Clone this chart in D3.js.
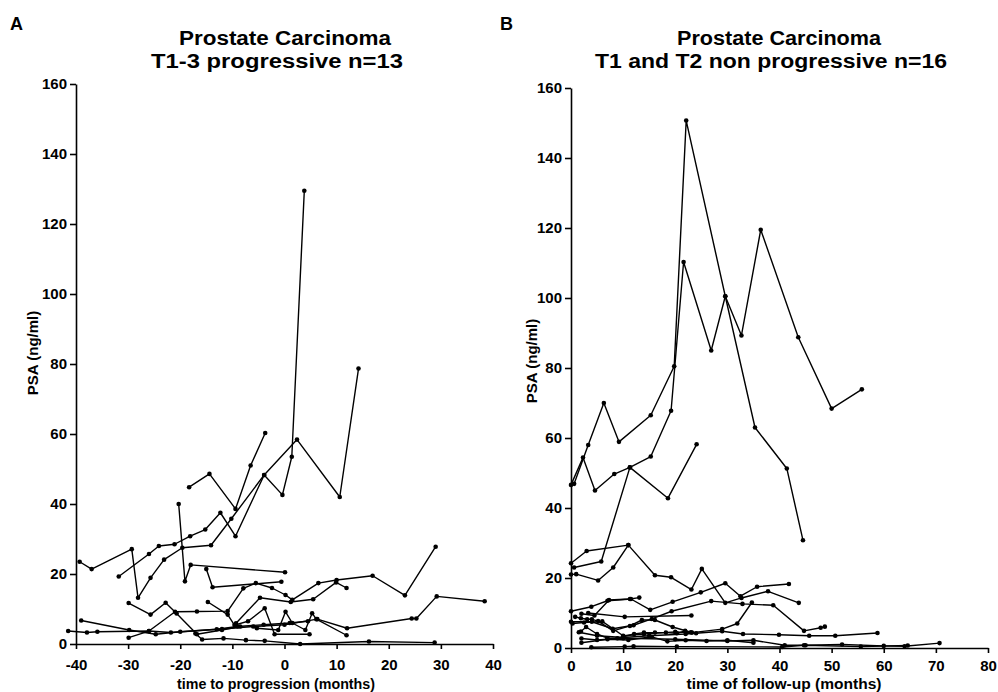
<!DOCTYPE html>
<html>
<head>
<meta charset="utf-8">
<script src="https://cdn.jsdelivr.net/npm/d3@7"></script>
<style>
  body { margin: 0; background: #fff; }
  svg { display: block; font-family: "Liberation Sans", Arial, Helvetica, sans-serif; }
  .axis path, .axis line { stroke: #000; stroke-width: 1.6; }
  .axis text { font-size: 15px; font-weight: bold; fill: #000; }
  .patient { fill: none; stroke: #000; stroke-width: 1.4; stroke-linejoin: round; }
  .dot { fill: #000; }
</style>
</head>
<body>
<svg id="chart" width="998" height="692"></svg>
<script>
// tick values
const psaTicks = [0, 20, 40, 60, 80, 100, 120, 140, 160];
const progressionTicks = [-40, -30, -20, -10, 0, 10, 20, 30, 40];
const followUpTicks = [0, 10, 20, 30, 40, 50, 60, 70, 80];

// panel A: T1-3 progressive, [months to progression, PSA ng/ml]
const progressive = [
  [[-18.3, 44.8], [-14.4, 48.6], [-9.4, 38.6], [-6.5, 51], [-3.7, 60.3]],
  [[-31.8, 19.3], [-26, 25.7], [-24.1, 28], [-21.1, 28.5], [-18.1, 30.8], [-15.2, 32.7], [-12.3, 37.5], [-9.4, 30.8], [-3.9, 48.3], [-0.4, 42.6], [1.4, 53.5], [3.8, 129.5]],
  [[-39.3, 23.5], [-37, 21.4], [-29.3, 27.1], [-28.1, 13.2], [-25.7, 18.9], [-23.1, 24.1], [-19.6, 27.5], [-14.1, 28.2], [-10.2, 35.8], [-3.9, 48.3], [2.4, 58.4], [10.6, 42], [14.2, 78.7]],
  [[-20.3, 40], [-19.1, 17.9], [-18, 22.6], [0.1, 20.5]],
  [[-15, 21.4], [-13.8, 16.2], [-0.6, 17.8]],
  [[-41.5, 3.7], [-37.9, 3.3], [-35.9, 3.5], [-26, 3.7], [-21.8, 3.3], [-12, 4.3], [-6, 5], [0, 5.5], [6.3, 7.1], [12, 4.5], [24.4, 7.3], [25.3, 7.3], [29.2, 13.6], [38.4, 12.2]],
  [[-39, 6.7], [-29.8, 4], [-24.7, 2.8], [-20, 3.5], [-13, 4.2], [-9, 5], [-4, 5.5], [1, 6], [4.5, 6.5]],
  [[-29.9, 1.8], [-26, 3.7], [-21, 9.2], [-16.8, 9.3], [-10.9, 9.4], [-7.9, 15.9], [-5.5, 17.4], [-2.4, 16], [0.2, 14], [1.5, 12.6], [6.5, 17.4], [10, 18.3], [16.9, 19.5], [23.1, 13.9], [29, 27.8]],
  [[-9.3, 5.9], [-4.7, 13.2], [1.2, 12], [5.5, 12.8], [9.9, 17.6], [11.9, 16]],
  [[-29.9, 11.7], [-25.7, 8.4], [-22.8, 11.8], [-20.7, 8.7], [-16.8, 2.8], [-12, 4], [-8.5, 5]],
  [[-14.7, 12], [-10.9, 8.4], [-9.6, 5.4], [-7, 6.5], [-3.8, 10.2], [-1.9, 2.8], [4.8, 2.8]],
  [[-5.3, 4.5], [-1.2, 4], [0.2, 9.2], [1.5, 6], [4, 4], [5.3, 8.8], [6.1, 7.1], [11.9, 2.5]],
  [[-17.1, 3], [-15.8, 1.3], [-11.7, 1.6], [-7.4, 1.1], [-3.8, 0.9], [3, 0], [16.2, 0.7], [28.8, 0.4]]
];

// panel B: T1 and T2 non progressive, [months of follow-up, PSA ng/ml]
const nonProgressive = [
  [[0.6, 46.9], [3.3, 58], [6.3, 70], [9.2, 58.9], [15.3, 66.5], [19.8, 80.5], [22.1, 150.7], [29.6, 100.5], [35.3, 63], [41.4, 51.3], [44.5, 30.8]],
  [[0, 46.6], [2.3, 54.4], [4.6, 45], [8.3, 49.7], [11.3, 51.6], [15.3, 54.7], [19.2, 67.8], [21.6, 110.3], [26.9, 85], [29.6, 100.5], [32.7, 89.3], [36.4, 119.5], [43.6, 88.8], [50, 68.4], [55.8, 73.9]],
  [[0.6, 23], [5.8, 24.7], [11.3, 51.6], [18.6, 42.8], [24.1, 58.2]],
  [[0, 24.2], [3, 27.7], [11, 29.4]],
  [[0, 21], [1, 21.1], [5.2, 19.3], [8.1, 23], [11, 29.4], [16.1, 20.8], [19.2, 20.2], [23.1, 16.7], [25.1, 22.6], [29.6, 12.9], [32.7, 14.3], [37.8, 16.2], [43.7, 12.9]],
  [[0, 10.5], [3.9, 11.8], [7, 13.5], [11.5, 14], [15.2, 10.9], [19.5, 13.2], [24.9, 15.9], [29.6, 18.5], [32.5, 14.8], [35.7, 17.5], [41.8, 18.3]],
  [[0, 7.5], [4, 7.5], [8, 5.5], [12, 6.5], [15.5, 8.3], [19.3, 10.5], [26.9, 13.4], [32.9, 12.6], [38.8, 12.2], [44.7, 4.9], [47.9, 5.8], [48.7, 6.1]],
  [[3.3, 10], [10.3, 8.9], [23.1, 9.3]],
  [[2, 9.8], [4.5, 9.3], [7.3, 13.7], [11.3, 14], [13.1, 14.4]],
  [[2, 2.7], [5, 2.3], [10, 2.8], [20, 2.5], [30, 2], [35, 2.2], [41, 0.8], [45, 0.8], [52, 1], [60, 0.6], [64, 0.5], [70.7, 1.4]],
  [[1.5, 4.5], [5, 3.5], [10, 3], [15, 3.5], [22, 4], [29, 4.8], [33, 4], [39.9, 3.8], [45.7, 3.5], [50.7, 3.5], [58.8, 4.3]],
  [[3.9, 0.2], [10.3, 0.4], [12, 0.5], [20.3, 0.4], [40.5, 0.3], [44.7, 0.8], [55.6, 0.4], [64.6, 0.7]],
  [[0.8, 8.9], [1.9, 8.5], [3.1, 8.2], [4, 8.2], [5.2, 7.7], [8.1, 4.9], [11.3, 6.3], [13.6, 8], [16.1, 8], [19.5, 6], [23, 4.5]],
  [[1.9, 4.7], [2.9, 6], [5, 4], [7, 2.8], [8.9, 2.8], [12.1, 4], [14, 4.4], [16.1, 4.4], [18.2, 4.4], [20.3, 4.2], [21.9, 4.9], [23.2, 4.4], [29, 5.4], [31.9, 7], [34.7, 13]],
  [[2, 1.5], [7, 2.5], [11, 2.3], [15.5, 3.2], [18.5, 1.9], [22, 2.2], [26, 2], [30, 2.2], [35, 1.5]],
  [[0.3, 7], [2.5, 7.3], [6, 7.6], [10, 3.5], [14, 4], [20, 4.6], [24, 4.2]]
];

const svg = d3.select('#chart');

function drawPanel(p) {
  const x = d3.scaleLinear().domain(p.xDomain).range(p.xRange);
  const y = d3.scaleLinear().domain([0, 160]).range(p.yRange);
  const g = svg.append('g');

  g.append('g')
    .attr('class', 'axis')
    .attr('transform', `translate(0,${p.yRange[0]})`)
    .call(d3.axisBottom(x).tickValues(p.xTicks).tickSize(5).tickSizeOuter(0).tickPadding(p.xPad).tickFormat(d => String(d)));

  g.append('g')
    .attr('class', 'axis')
    .attr('transform', `translate(${p.xRange[0]},0)`)
    .call(d3.axisLeft(y).tickValues(psaTicks).tickSize(6).tickSizeOuter(0).tickPadding(3).tickFormat(d => String(d)));

  const line = d3.line().x(d => x(d[0])).y(d => y(d[1]));

  g.selectAll('.patient')
    .data(p.series)
    .enter()
    .append('path')
    .attr('class', 'patient')
    .attr('d', line);

  g.selectAll('.dot')
    .data(p.series.flat())
    .enter()
    .append('circle')
    .attr('class', 'dot')
    .attr('cx', d => x(d[0]))
    .attr('cy', d => y(d[1]))
    .attr('r', 2.3);

  // panel letter
  g.append('text')
    .attr('x', p.letterX).attr('y', 30)
    .style('font-size', '18px').style('font-weight', 'bold')
    .text(p.letter);

  // two-line title
  p.title.forEach((t, i) => {
    g.append('text')
      .attr('x', p.titleX[i]).attr('y', 45 + i * 23)
      .attr('text-anchor', 'middle')
      .attr('textLength', p.titleW[i])
      .attr('lengthAdjust', 'spacingAndGlyphs')
      .style('font-size', '20px').style('font-weight', 'bold')
      .text(t);
  });

  g.append('text')
    .attr('x', p.xLabelX).attr('y', 689)
    .attr('text-anchor', 'middle')
    .attr('textLength', p.xLabelW)
    .attr('lengthAdjust', 'spacingAndGlyphs')
    .style('font-size', '14px').style('font-weight', 'bold')
    .text(p.xLabel);

  g.append('text')
    .attr('transform', `translate(${p.yLabelX},${p.yLabelY}) rotate(-90)`)
    .attr('text-anchor', 'middle')
    .style('font-size', '15px').style('font-weight', 'bold')
    .text('PSA (ng/ml)');
}

drawPanel({
  series: progressive,
  xDomain: [-40, 40], xRange: [76, 493], yRange: [644, 84],
  xTicks: progressionTicks, xPad: 10,
  letter: 'A', letterX: 10,
  title: ['Prostate Carcinoma', 'T1-3 progressive n=13'],
  titleX: [285, 277], titleW: [212, 252],
  xLabel: 'time to progression (months)', xLabelX: 276, xLabelW: 198,
  yLabelX: 38, yLabelY: 353
});

drawPanel({
  series: nonProgressive,
  xDomain: [0, 80], xRange: [571, 988], yRange: [648, 88],
  xTicks: followUpTicks, xPad: 7,
  letter: 'B', letterX: 500,
  title: ['Prostate Carcinoma', 'T1 and T2 non progressive n=16'],
  titleX: [779, 771], titleW: [204, 352],
  xLabel: 'time of follow-up (months)', xLabelX: 784, xLabelW: 195,
  yLabelX: 537, yLabelY: 361
});
</script>
</body>
</html>
